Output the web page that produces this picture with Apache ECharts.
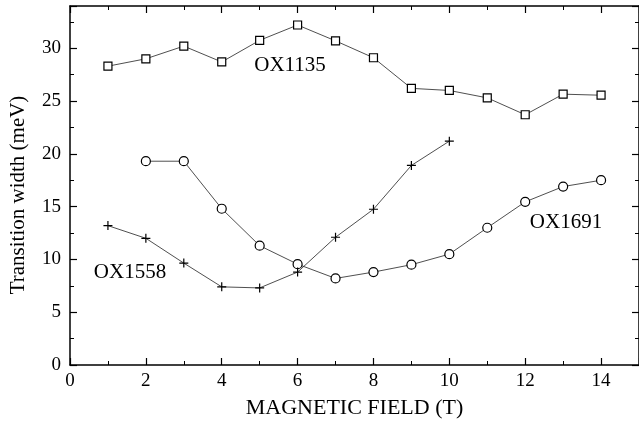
<!DOCTYPE html>
<html><head><meta charset="utf-8">
<script src="https://cdn.jsdelivr.net/npm/echarts@6/dist/echarts.min.js"></script>
<style>html,body{margin:0;padding:0;background:#fff}#c{width:639px;height:424px}</style>
</head><body><div id="c"></div>
<script>
const fieldOX1135 = [1,2,3,4,5,6,7,8,9,10,11,12,13,14];
const widthOX1135 = [28.3,29.0,30.2,28.7,30.75,32.2,30.7,29.1,26.2,26.0,25.3,23.7,25.65,25.55];
const fieldOX1691 = [2,3,4,5,6,7,8,9,10,11,12,13,14];
const widthOX1691 = [19.3,19.3,14.8,11.3,9.55,8.2,8.8,9.5,10.5,13.0,15.45,16.9,17.5];
const fieldOX1558 = [1,2,3,4,5,6,7,8,9,10];
const widthOX1558 = [13.2,12.0,9.65,7.4,7.3,8.8,12.1,14.75,18.9,21.2];
const labels = ["OX1135","OX1691","OX1558"];
const xName = "MAGNETIC FIELD (T)";
const yName = "Transition width (meV)";

const FONT = "Liberation Serif";
const chart = echarts.init(document.getElementById('c'), null, {renderer:'canvas'});
const pair = (xs, ys) => xs.map((x,i)=>[x, ys[i]]);
const lineStyle = {color:'#222', width:0.8};
const baseSeries = {type:'line', symbolSize:9, lineStyle, itemStyle:{color:'#fff', borderColor:'#000', borderWidth:1.2}, z:3, animation:false};
const axisCommon = () => ({
  axisLine:{onZero:false, lineStyle:{color:'#000', width:1.5}},
  axisTick:{inside:true, length:7, lineStyle:{color:'#000', width:1.2}},
  minorTick:{show:true, splitNumber:2, length:4, lineStyle:{color:'#000', width:1}},
  splitLine:{show:false}
});
chart.setOption({
  animation:false,
  grid:{left:70, top:6, width:571.5, height:359.7},
  xAxis:[
    Object.assign({type:'value', min:0, max:15, interval:2, position:'bottom',
      name:xName, nameLocation:'middle', nameGap:32,
      nameTextStyle:{fontFamily:FONT, fontSize:22, color:'#000'},
      axisLabel:{fontFamily:FONT, fontSize:19, color:'#000', margin:7, showMaxLabel:false}}, axisCommon()),
    Object.assign({type:'value', min:0, max:15, interval:2, position:'top',
      axisLabel:{show:false}}, axisCommon())
  ],
  yAxis:[
    Object.assign({type:'value', min:0, max:34, interval:5, position:'left',
      axisLabel:{fontFamily:FONT, fontSize:19, color:'#000', margin:9, showMaxLabel:false}}, axisCommon()),
    Object.assign({type:'value', min:0, max:34, interval:5, position:'right',
      axisLabel:{show:false}}, axisCommon())
  ],
  graphic:[
    {type:'text', x:18, y:195, rotation:Math.PI/2,
      style:{text:yName, font:'21px "'+FONT+'"', fill:'#000', textAlign:'center', textVerticalAlign:'middle'}},
    {type:'text', x:290, y:65, style:{text:labels[0], font:'21px "'+FONT+'"', fill:'#000', textAlign:'center', textVerticalAlign:'middle'}},
    {type:'text', x:566, y:222, style:{text:labels[1], font:'21px "'+FONT+'"', fill:'#000', textAlign:'center', textVerticalAlign:'middle'}},
    {type:'text', x:130, y:272, style:{text:labels[2], font:'21px "'+FONT+'"', fill:'#000', textAlign:'center', textVerticalAlign:'middle'}}
  ],
  series:[
    Object.assign({}, baseSeries, {name:labels[0], symbol:'rect', symbolSize:8, data:pair(fieldOX1135, widthOX1135)}),
    Object.assign({}, baseSeries, {name:labels[1], symbol:'circle', symbolSize:9, data:pair(fieldOX1691, widthOX1691)}),
    Object.assign({}, baseSeries, {name:labels[2], symbol:'path://M0,5 L10,5 M5,0 L5,10', symbolSize:9,
      itemStyle:{color:'none', borderColor:'#000', borderWidth:1.2}, data:pair(fieldOX1558, widthOX1558)})
  ]
});
</script></body></html>
